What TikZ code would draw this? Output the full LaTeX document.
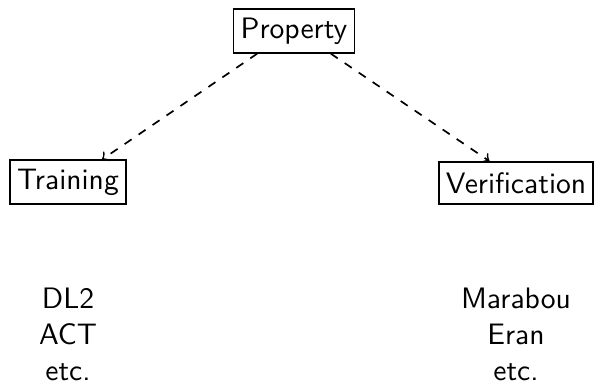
\documentclass[tikz,border=0pt]{standalone}
\usetikzlibrary{calc}
\begin{document}
\begin{tikzpicture}[x=0.355pt,y=-0.355pt,font=\sffamily\fontsize{10.5}{12.8}\selectfont,
  box/.style={draw,line width=0.6pt,inner xsep=2.5pt,inner ysep=3pt,minimum height=14.9pt},
  list/.style={align=center,inner sep=0pt},
  arr/.style={->,dashed,line width=0.6pt}]
\useasboundingbox (0,0) rectangle (596,383);
\node[box] (prop) at (294,31) {Property};
\node[box] (train) at (68,182) {Training};
\node[box] (verif) at (516,183) {Verification};
\node[list] (tl) at (68,334) {DL2\\ACT\\etc.};
\node[list] (vl) at (516,334) {Marabou\\Eran\\etc.};
\draw[arr] ($(prop.south west)!0.2!(prop.south east)$) -- ($(train.north west)!0.79!(train.north east)$);
\draw[arr] ($(prop.south west)!0.8!(prop.south east)$) -- ($(verif.north west)!0.33!(verif.north east)$);
\end{tikzpicture}
\end{document}
